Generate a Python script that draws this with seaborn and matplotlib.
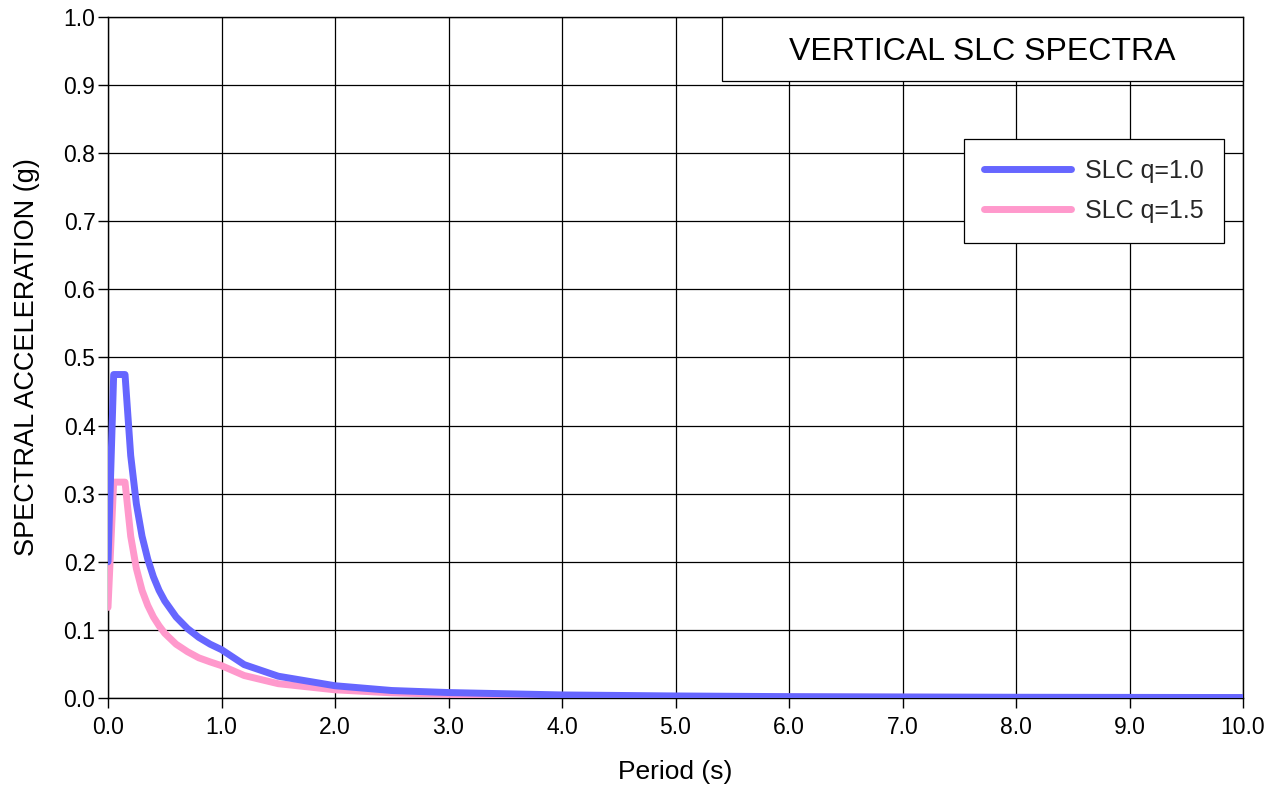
import numpy as np
import pandas as pd
import matplotlib
matplotlib.use("Agg")
import matplotlib.pyplot as plt
import seaborn as sns
from matplotlib.ticker import FormatStrFormatter, MultipleLocator
from matplotlib.patches import Rectangle

period = [0.0, 0.05, 0.15, 0.2, 0.25, 0.3, 0.35, 0.4, 0.45, 0.5, 0.6, 0.7, 0.8, 0.9,
          1.0, 1.2, 1.5, 2.0, 2.5, 3.0, 4.0, 5.0, 6.0, 7.0, 8.0, 9.0, 10.0]
slc_q10 = [0.200, 0.475, 0.475, 0.356, 0.285, 0.2375, 0.204, 0.178, 0.158, 0.1425, 0.119,
           0.102, 0.089, 0.079, 0.071, 0.049, 0.032, 0.018, 0.011, 0.008, 0.0045, 0.003,
           0.002, 0.0015, 0.0011, 0.0009, 0.0007]
slc_q15 = [0.133, 0.317, 0.317, 0.2375, 0.190, 0.158, 0.136, 0.119, 0.106, 0.095, 0.079,
           0.068, 0.059, 0.053, 0.0475, 0.033, 0.021, 0.012, 0.0076, 0.0053, 0.003, 0.0019,
           0.0013, 0.001, 0.0007, 0.0006, 0.0005]
series_names = ["SLC q=1.0", "SLC q=1.5"]
colors = ["#6666FF", "#FF99CC"]
title_text = "VERTICAL SLC SPECTRA"

sns.set_theme(style="ticks")
plt.rcParams['font.family'] = ['Liberation Sans', 'DejaVu Sans']

df = pd.concat([
    pd.DataFrame({"Period": period, "Sa": slc_q10, "Series": series_names[0]}),
    pd.DataFrame({"Period": period, "Sa": slc_q15, "Series": series_names[1]}),
])

fig = plt.figure(figsize=(12.73, 7.87), dpi=100)
ax = fig.add_axes([108/1273, 89/787, 1135/1273, 681/787])

LW = 5.0
# draw pink first, blue on top
sns.lineplot(data=df[df.Series == series_names[1]], x="Period", y="Sa", color=colors[1],
             lw=LW, ax=ax, label=series_names[1], zorder=3, estimator=None, sort=False,
             solid_joinstyle="round", solid_capstyle="round")
sns.lineplot(data=df[df.Series == series_names[0]], x="Period", y="Sa", color=colors[0],
             lw=LW, ax=ax, label=series_names[0], zorder=4, estimator=None, sort=False,
             solid_joinstyle="round", solid_capstyle="round")

ax.set_xlim(0, 10)
ax.set_ylim(0, 1)
ax.xaxis.set_major_locator(MultipleLocator(1))
ax.yaxis.set_major_locator(MultipleLocator(0.1))
ax.xaxis.set_major_formatter(FormatStrFormatter('%.1f'))
ax.yaxis.set_major_formatter(FormatStrFormatter('%.1f'))
ax.grid(True, color="black", lw=0.9)
ax.set_axisbelow(True)
for s in ax.spines.values():
    s.set_visible(True)
    s.set_color("black")
    s.set_linewidth(1.0)
ax.tick_params(direction="out", length=7.5, width=1, colors="black", labelsize=16.5)
ax.tick_params(axis="x", pad=5.5)
ax.tick_params(axis="y", pad=1.5)
ax.set_xlabel("Period (s)", fontsize=19, labelpad=15, color="black")
ax.set_ylabel("SPECTRAL ACCELERATION (g)", fontsize=19.5, labelpad=17, color="black")

handles, labels = ax.get_legend_handles_labels()
order = [labels.index(n) for n in series_names]
leg = ax.legend([handles[i] for i in order], [labels[i] for i in order],
                loc="upper right", bbox_to_anchor=(0.983, 0.821), fontsize=18,
                frameon=True, fancybox=False, edgecolor="black", framealpha=1,
                handlelength=3.5, borderpad=0.8, labelspacing=0.65, handletextpad=0.55,
                borderaxespad=0)
leg.get_frame().set_linewidth(0.9)
for line in leg.get_lines():
    line.set_linewidth(LW)

rect = Rectangle((0.541, 0.906), 0.459, 0.094, transform=ax.transAxes,
                 facecolor="white", edgecolor="black", lw=0.9, zorder=5, clip_on=False)
ax.add_patch(rect)
ax.text(0.7705, 0.949, title_text, transform=ax.transAxes, ha="center", va="center",
        fontsize=23, color="black", zorder=6)

fig.savefig("out.png", dpi=100)
